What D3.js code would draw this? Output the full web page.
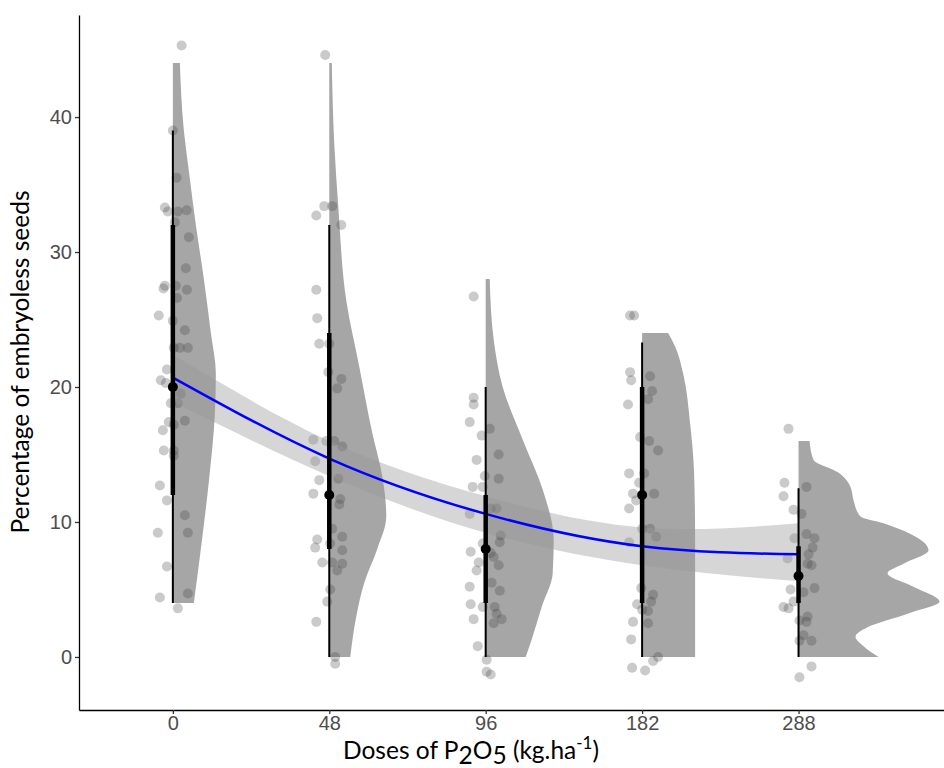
<!DOCTYPE html>
<html>
<head>
<meta charset="utf-8">
<script src="https://cdn.jsdelivr.net/npm/d3@7"></script>
<style>
body { margin: 0; background: #fff; }
.axis path, .axis line { stroke: #000; stroke-width: 1.3; }
.axis .tick line { stroke: #333; }
.axis .tick text { fill: #4d4d4d; font-family: "Liberation Sans", Arial, sans-serif; font-size: 20px; }
.title { font-family: Lato, "Open Sans", sans-serif; font-size: 24.5px; fill: #000; }
</style>
</head>
<body>
<svg width="944" height="768"></svg>
<script>

var doses = ["0", "48", "96", "182", "288"];
var yTicks = [0, 10, 20, 30, 40];

// jittered observations: [percentage, horizontal jitter in dose-step units]
var pts0 = [[45.3,.056],[39.0,0],[35.5,.024],[33.3,-.051],[33.0,-.032],[33.0,.032],[33.1,.088],[32.2,.013],[31.1,.102],[28.8,.083],[27.5,-.051],[27.3,-.060],[27.5,.019],[27.2,.090],[26.6,.026],[25.3,-.090],[24.9,0],[24.2,.077],[22.9,.006],[22.9,.045],[22.9,.096],[21.3,-.038],[20.5,-.077],[20.3,-.045],[19.5,.051],[18.8,-.013],[18.8,.032],[17.4,-.026],[17.2,.006],[17.5,.077],[16.8,-.064],[15.3,-.058],[15.3,.006],[14.9,.006],[12.7,-.083],[11.6,-.038],[10.5,.077],[9.2,-.096],[9.2,.096],[6.7,-.038],[4.4,-.083],[4.7,.096],[3.6,.032]];
var pts48 = [[44.6,-.026],[33.4,-.032],[33.4,.019],[32.7,-.083],[32.0,.077],[27.2,-.083],[25.1,-.077],[23.2,-.064],[23.2,0],[21.1,-.006],[20.6,.077],[19.9,.051],[16.1,-.102],[16.0,-.019],[16.0,.032],[15.6,.083],[14.5,-.090],[13.1,-.064],[13.2,.058],[12.1,-.102],[11.7,.070],[11.3,.064],[9.5,.019],[8.9,.083],[8.7,-.077],[8.1,-.090],[8.4,.006],[7.9,.083],[7.0,-.045],[7.0,.019],[6.9,.083],[6.4,.051],[5.0,.006],[4.1,-.013],[2.6,-.083],[0.0,.038],[-0.5,.038]];
var pts96 = [[26.7,-.077],[19.2,-.077],[18.7,-.077],[17.4,-.102],[16.9,.026],[16.4,-.026],[15.0,.083],[14.6,-.058],[13.4,-.006],[13.2,.083],[12.6,-.083],[12.6,-.019],[11.0,.070],[11.0,.032],[10.6,-.102],[9.0,.096],[8.5,.090],[8.4,-.019],[7.8,-.096],[7.7,.032],[7.0,-.045],[7.4,.051],[6.8,.083],[6.4,-.058],[5.2,-.102],[5.5,.038],[4.9,.090],[3.9,-.096],[3.7,-.019],[3.7,.058],[3.2,.070],[2.8,.102],[2.8,-.077],[2.5,.051],[0.8,-.051],[-0.2,.006],[-1.1,.006],[-1.3,.032]];
var pts182 = [[25.3,-.077],[25.3,-.051],[21.1,-.077],[20.5,-.070],[20.8,.051],[19.7,.064],[19.1,.038],[18.7,-.090],[16.3,-.013],[16.0,.045],[15.3,.102],[13.6,-.083],[13.6,.013],[12.9,-.019],[12.1,-.058],[12.1,.077],[11.6,-.038],[11.0,-.083],[9.5,0],[9.5,.051],[8.9,.090],[8.5,-.083],[5.1,-.006],[4.6,.070],[4.1,.058],[3.9,-.032],[3.5,0],[3.4,.038],[2.6,-.058],[2.5,.038],[1.3,-.070],[0.0,.102],[-0.3,.070],[-0.8,-.064],[-1.0,.019]];
var pts288 = [[16.9,-.064],[12.9,-.090],[11.9,-.096],[12.6,.051],[10.9,-.032],[10.6,.019],[8.8,-.026],[9.1,.051],[8.8,.102],[8.1,.090],[7.6,.064],[7.3,-.070],[6.8,.083],[6.9,.058],[5.0,-.051],[5.1,.102],[4.8,.032],[4.1,-.032],[3.7,-.096],[3.6,-.064],[2.7,.006],[3.0,.058],[2.6,.051],[1.6,.032],[1.2,.006],[1.2,.083],[-0.7,.083],[-1.5,.006]];
var points = [pts0, pts48, pts96, pts182, pts288];

// half violin densities: [percentage, relative density]
var dens0 = [[4,.21],[8,.28],[13,.36],[18,.42],[21,.43],[24,.38],[28,.31],[32,.23],[36,.16],[39,.11],[44,.07]];
var dens48 = [[0,.21],[3,.27],[5.5,.35],[8,.48],[10.4,.57],[13.4,.53],[16.6,.43],[21.5,.30],[26.4,.17],[33.4,.09],[38,.05],[44,.025]];
var dens96 = [[0,.40],[1.3,.46],[3.7,.56],[6.2,.67],[8.7,.68],[12.4,.57],[16.1,.37],[20,.17],[23.5,.08],[28,.04]];
var dens182 = [[0,.53],[4,.53],[8.7,.53],[13.6,.52],[17.3,.48],[21,.41],[23,.33],[24,.26]];
var dens288 = [[0,.80],[0.8,.65],[1.5,.57],[2.2,.69],[3.2,1.09],[4.1,1.41],[5.2,1.15],[6.2,.89],[6.9,1.05],[7.9,1.30],[9.1,1.12],[9.9,.85],[10.4,.62],[11.6,.55],[12.6,.52],[13.7,.39],[14.6,.15],[16,.11]];
var densities = [dens0, dens48, dens96, dens182, dens288];

// median and intervals
var medians = [20, 12, 8, 12, 6];
var innerLo = [12, 8, 4, 4, 4];
var innerHi = [32, 24, 12, 20, 8.2];
var outerLo = [4, 0, 0, 0, 0];
var outerHi = [39, 32, 20, 23.3, 12.5];

// quadratic fit and its confidence band
var fitMean = [20.7, 14.7, 10.6, 8.2, 7.6];
var fitLo = [18.9, 13.4, 9.2, 6.8, 5.6];
var fitHi = [22.4, 16.0, 11.9, 9.6, 9.9];

var svg = d3.select("svg");

var x = d3.scaleLinear().domain([0.4, 5.93]).range([79, 944]);
var y = d3.scaleLinear().domain([-3.93, 47.56]).range([710, 15]);
var w = d3.scaleLinear().domain([0, 1]).range([0, 100]);
var step = x(2) - x(1);

// violins
svg.append("g").selectAll("path")
  .data(densities)
  .enter().append("path")
  .attr("fill", "#a6a6a6")
  .attr("d", function(d, i) {
    var cx = x(i + 1);
    return d3.area()
      .curve(d3.curveMonotoneY)
      .y(function(p) { return y(p[0]); })
      .x0(cx)
      .x1(function(p) { return cx + w(p[1]); })(d);
  });

// jittered points
points.forEach(function(grp, i) {
  svg.append("g").selectAll("circle")
    .data(grp)
    .enter().append("circle")
    .attr("cx", function(d) { return x(i + 1) + d[1] * step; })
    .attr("cy", function(d) { return y(d[0]); })
    .attr("r", 5)
    .attr("fill", "#404040")
    .attr("fill-opacity", 0.28);
});

// fit band and line
var idx = [1, 2, 3, 4, 5];
svg.append("path")
  .datum(idx)
  .attr("fill", "#999")
  .attr("fill-opacity", 0.4)
  .attr("d", d3.area()
    .curve(d3.curveNatural)
    .x(function(d) { return x(d); })
    .y0(function(d) { return y(fitLo[d - 1]); })
    .y1(function(d) { return y(fitHi[d - 1]); }));

svg.append("path")
  .datum(idx)
  .attr("fill", "none")
  .attr("stroke", "#0000ff")
  .attr("stroke-width", 2.5)
  .attr("d", d3.line()
    .curve(d3.curveNatural)
    .x(function(d) { return x(d); })
    .y(function(d) { return y(fitMean[d - 1]); }));

// intervals + medians
var iv = svg.append("g");
idx.forEach(function(d, i) {
  iv.append("line")
    .attr("x1", x(d)).attr("x2", x(d))
    .attr("y1", y(outerLo[i])).attr("y2", y(outerHi[i]))
    .attr("stroke", "#000").attr("stroke-width", 2);
  iv.append("line")
    .attr("x1", x(d)).attr("x2", x(d))
    .attr("y1", y(innerLo[i])).attr("y2", y(innerHi[i]))
    .attr("stroke", "#000").attr("stroke-width", 4.5);
  iv.append("circle")
    .attr("cx", x(d)).attr("cy", y(medians[i]))
    .attr("r", 5).attr("fill", "#000");
});

// axes
svg.append("g")
  .attr("class", "axis")
  .attr("transform", "translate(79,0)")
  .call(d3.axisLeft(y).tickValues(yTicks).tickSize(4).tickPadding(3).tickSizeOuter(0));

svg.append("g")
  .attr("class", "axis")
  .attr("transform", "translate(0,710)")
  .call(d3.axisBottom(x).tickValues(idx).tickSize(4).tickPadding(2).tickSizeOuter(0)
    .tickFormat(function(d) { return doses[d - 1]; }));

// titles
svg.append("text")
  .attr("class", "title")
  .attr("text-anchor", "middle")
  .attr("transform", "translate(29,362) rotate(-90)")
  .text("Percentage of embryoless seeds");

var xt = svg.append("text")
  .attr("class", "title")
  .attr("text-anchor", "middle")
  .attr("x", 471).attr("y", 759);
xt.append("tspan").text("Doses of P");
xt.append("tspan").attr("dy", 5).text("2");
xt.append("tspan").attr("dy", -5).text("O");
xt.append("tspan").attr("dy", 5).text("5");
xt.append("tspan").attr("dy", -5).text(" (kg.ha");
xt.append("tspan").attr("dy", -10).attr("font-size", 17).text("-1");
xt.append("tspan").attr("dy", 10).text(")");

</script>
</body>
</html>
